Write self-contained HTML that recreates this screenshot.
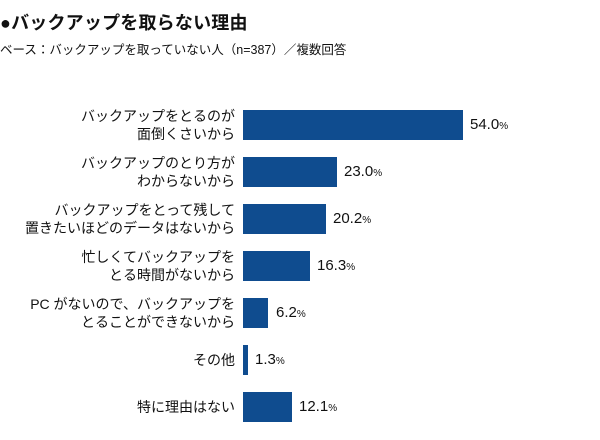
<!DOCTYPE html>
<html><head><meta charset="utf-8"><style>
body{margin:0;width:600px;height:440px;background:#fff;font-family:"Liberation Sans","Noto Sans CJK JP",sans-serif;color:#111;position:relative;overflow:hidden}
.t{position:absolute;left:0;top:9px;font-size:18px;font-weight:bold;letter-spacing:0.2px}
.s{position:absolute;left:0;top:39px;font-size:12.5px}
.l{position:absolute;right:365px;font-size:14px;line-height:18px;text-align:right;white-space:nowrap}
.b{position:absolute;left:243px;height:30px;background:#0f4c8f}
.v{position:absolute;font-size:15px;line-height:30px}
.v small{font-size:10px}
</style></head><body>
<div class="t">●バックアップを取らない理由</div>
<div class="s">ベース：バックアップを取っていない人（n=387）／複数回答</div>

<div class="l" style="top:107px">バックアップをとるのが<br>面倒くさいから</div>
<div class="b" style="top:110px;width:220px"></div><div class="v" style="top:110px;left:470px">54.0<small>%</small></div>

<div class="l" style="top:154px">バックアップのとり方が<br>わからないから</div>
<div class="b" style="top:157px;width:94px"></div><div class="v" style="top:157px;left:344px">23.0<small>%</small></div>

<div class="l" style="top:201px">バックアップをとって残して<br>置きたいほどのデータはないから</div>
<div class="b" style="top:204px;width:83px"></div><div class="v" style="top:204px;left:333px">20.2<small>%</small></div>

<div class="l" style="top:248px">忙しくてバックアップを<br>とる時間がないから</div>
<div class="b" style="top:251px;width:67px"></div><div class="v" style="top:251px;left:317px">16.3<small>%</small></div>

<div class="l" style="top:295px">PC がないので、バックアップを<br>とることができないから</div>
<div class="b" style="top:298px;width:25px"></div><div class="v" style="top:298px;left:276px">6.2<small>%</small></div>

<div class="l" style="top:351px">その他</div>
<div class="b" style="top:345px;width:5px"></div><div class="v" style="top:345px;left:255px">1.3<small>%</small></div>

<div class="l" style="top:398px">特に理由はない</div>
<div class="b" style="top:392px;width:49px"></div><div class="v" style="top:392px;left:299px">12.1<small>%</small></div>
</body></html>
